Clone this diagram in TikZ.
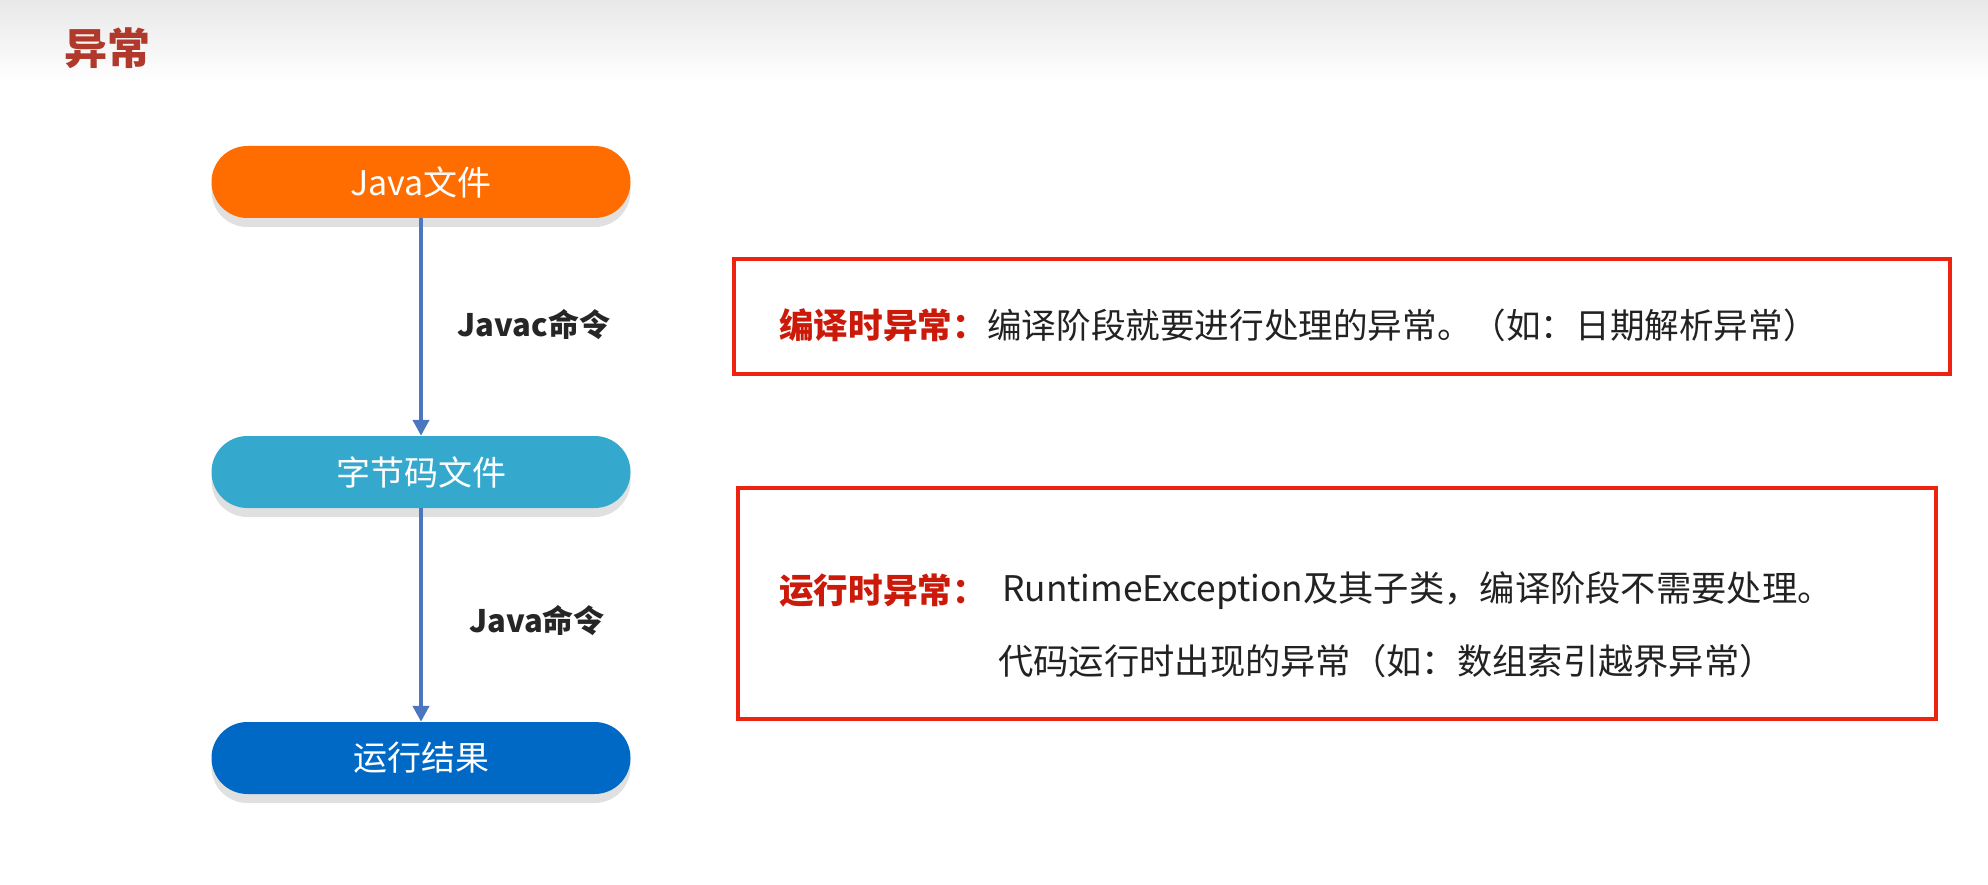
\documentclass[tikz,border=0pt]{standalone}
\usepackage{fontspec}
\usetikzlibrary{arrows.meta,shadows}
\newfontfamily\cjk{Noto Sans CJK SC}
\definecolor{orangeN}{HTML}{FF6D00}
\definecolor{tealN}{HTML}{35A9CD}
\definecolor{blueN}{HTML}{0069C5}
\definecolor{arrowC}{HTML}{4A77BE}
\definecolor{boxred}{HTML}{EE2211}
\definecolor{labred}{HTML}{CC1A0A}
\definecolor{titlered}{HTML}{B0392B}
\definecolor{txt}{HTML}{222222}
\begin{document}
\begin{tikzpicture}[x=1pt,y=-1pt,
  pill/.style={rectangle, rounded corners=35.9pt, minimum width=419pt, minimum height=72pt,
    text=white, inner sep=0pt, font=\cjk\fontsize{34}{34}\selectfont,
    drop shadow={shadow xshift=0pt, shadow yshift=-9pt, fill=black!12, opacity=1}},
  flow/.style={draw=arrowC, line width=4pt, -{Triangle[length=16pt,width=16pt]}},
  cmdlab/.style={inner sep=0pt, text=black!85, font=\cjk\bfseries\fontsize{31}{31}\selectfont},
  redbox/.style={draw=boxred, line width=4pt, inner sep=0pt},
  boxtxt/.style={anchor=west, inner sep=0pt, text=txt, font=\cjk\fontsize{34.6}{35}\selectfont},
  boxtxtb/.style={anchor=west, inner sep=0pt, text=txt, font=\cjk\fontsize{35.3}{35}\selectfont},
  boxlab/.style={anchor=west, inner sep=0pt, text=labred, font=\cjk\bfseries\fontsize{34.6}{35}\selectfont}
]
\useasboundingbox (0,0) rectangle (1988,885);
\fill[white] (0,0) rectangle (1988,885);
\shade[top color=black!9, bottom color=white] (0,0) rectangle (1988,82);
\node[anchor=west, inner sep=0pt, text=titlered, font=\cjk\bfseries\fontsize{43}{43}\selectfont] (title) at (64,48) {异常};

\node[pill, fill=orangeN] (n1) at (421,182) {Java文件};
\node[pill, fill=tealN] (n2) at (421,472) {字节码文件};
\node[pill, fill=blueN] (n3) at (421,758) {运行结果};

\draw[flow] (n1) -- (n2);
\draw[flow] (n2) -- (n3);

\node[cmdlab] (l1) at (534,325) {Javac命令};
\node[cmdlab] (l2) at (537,621) {Java命令};

\node[redbox, minimum width=1216pt, minimum height=115pt] (b1) at (1342,316.5) {};
\node[redbox, minimum width=1198pt, minimum height=231pt] (b2) at (1337,603.5) {};

\node[boxlab] (t1a) at (779,325) {编译时异常：};
\node[boxtxt] (t1b) at (t1a.east) {编译阶段就要进行处理的异常。（如：日期解析异常）};
\node[boxlab] (t2a) at (779,591) {运行时异常：};
\node[boxtxtb] (t2b) at (1002,591) {RuntimeException及其子类，编译阶段不需要处理。};
\node[boxtxtb] (t2c) at (998,661) {代码运行时出现的异常（如：数组索引越界异常）};
\end{tikzpicture}
\end{document}
